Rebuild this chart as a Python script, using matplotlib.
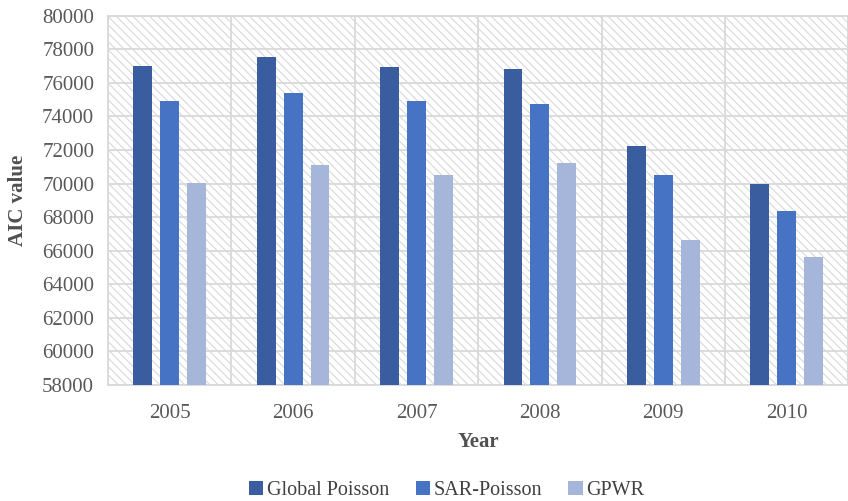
import numpy as np
import matplotlib
matplotlib.use('Agg')
import matplotlib.pyplot as plt
from matplotlib.patches import Rectangle

years = ['2005', '2006', '2007', '2008', '2009', '2010']
global_poisson = [77020, 77520, 76950, 76800, 72220, 69950]
sar_poisson = [74920, 75420, 74950, 74750, 70520, 68350]
gpwr = [70060, 71080, 70500, 71220, 66620, 65650]
y_ticks = list(range(58000, 80001, 2000))

plt.rcParams['font.family'] = ['Liberation Serif', 'DejaVu Serif']
plt.rcParams['hatch.linewidth'] = 0.7

fig = plt.figure(figsize=(8.48, 5.01), dpi=100)
ax = fig.add_axes([0.1274, 0.2315, 0.873, 0.737])

# hatched background
bg = Rectangle((0, 0), 1, 1, transform=ax.transAxes, facecolor='white',
               edgecolor='#D3D3D3', hatch='\\\\\\\\', linewidth=0, zorder=0)
ax.add_patch(bg)

x = np.arange(len(years))
w = 0.153
step = 0.218
ax.bar(x - step, global_poisson, w, color='#3A5DA0', label='Global Poisson', zorder=3)
ax.bar(x, sar_poisson, w, color='#4673C4', label='SAR-Poisson', zorder=3)
ax.bar(x + step, gpwr, w, color='#A6B5DA', label='GPWR', zorder=3)

ax.set_ylim(58000, 80000)
ax.set_xlim(-0.5, len(years) - 0.5)
ax.set_yticks(y_ticks)
ax.set_xticks(x)
ax.set_xticklabels(years)
ax.set_xticks(np.arange(-0.5, len(years)), minor=True)
ax.grid(axis='y', color='#D9D9D9', linewidth=1.3, zorder=1)
ax.grid(axis='x', which='minor', color='#D9D9D9', linewidth=1.3, zorder=1)
ax.set_axisbelow(True)
ax.tick_params(axis='both', which='both', length=0, labelsize=15, colors='#595959')
ax.tick_params(axis='x', pad=14)
ax.tick_params(axis='y', pad=10)
for s in ax.spines.values():
    s.set_color('#D9D9D9')
    s.set_linewidth(1.3)

ax.set_ylabel('AIC value', fontsize=15, fontweight='bold', color='#505050', labelpad=10)
ax.set_xlabel('Year', fontsize=15, fontweight='bold', color='#505050', labelpad=6)

leg = fig.legend(loc='lower center', bbox_to_anchor=(0.527, -0.035), ncol=3, frameon=False,
                 fontsize=14.5, handlelength=0.7, handleheight=0.7, handletextpad=0.2,
                 columnspacing=1.3)
for t in leg.get_texts():
    t.set_color('#404040')

fig.savefig('out.png', dpi=100)
